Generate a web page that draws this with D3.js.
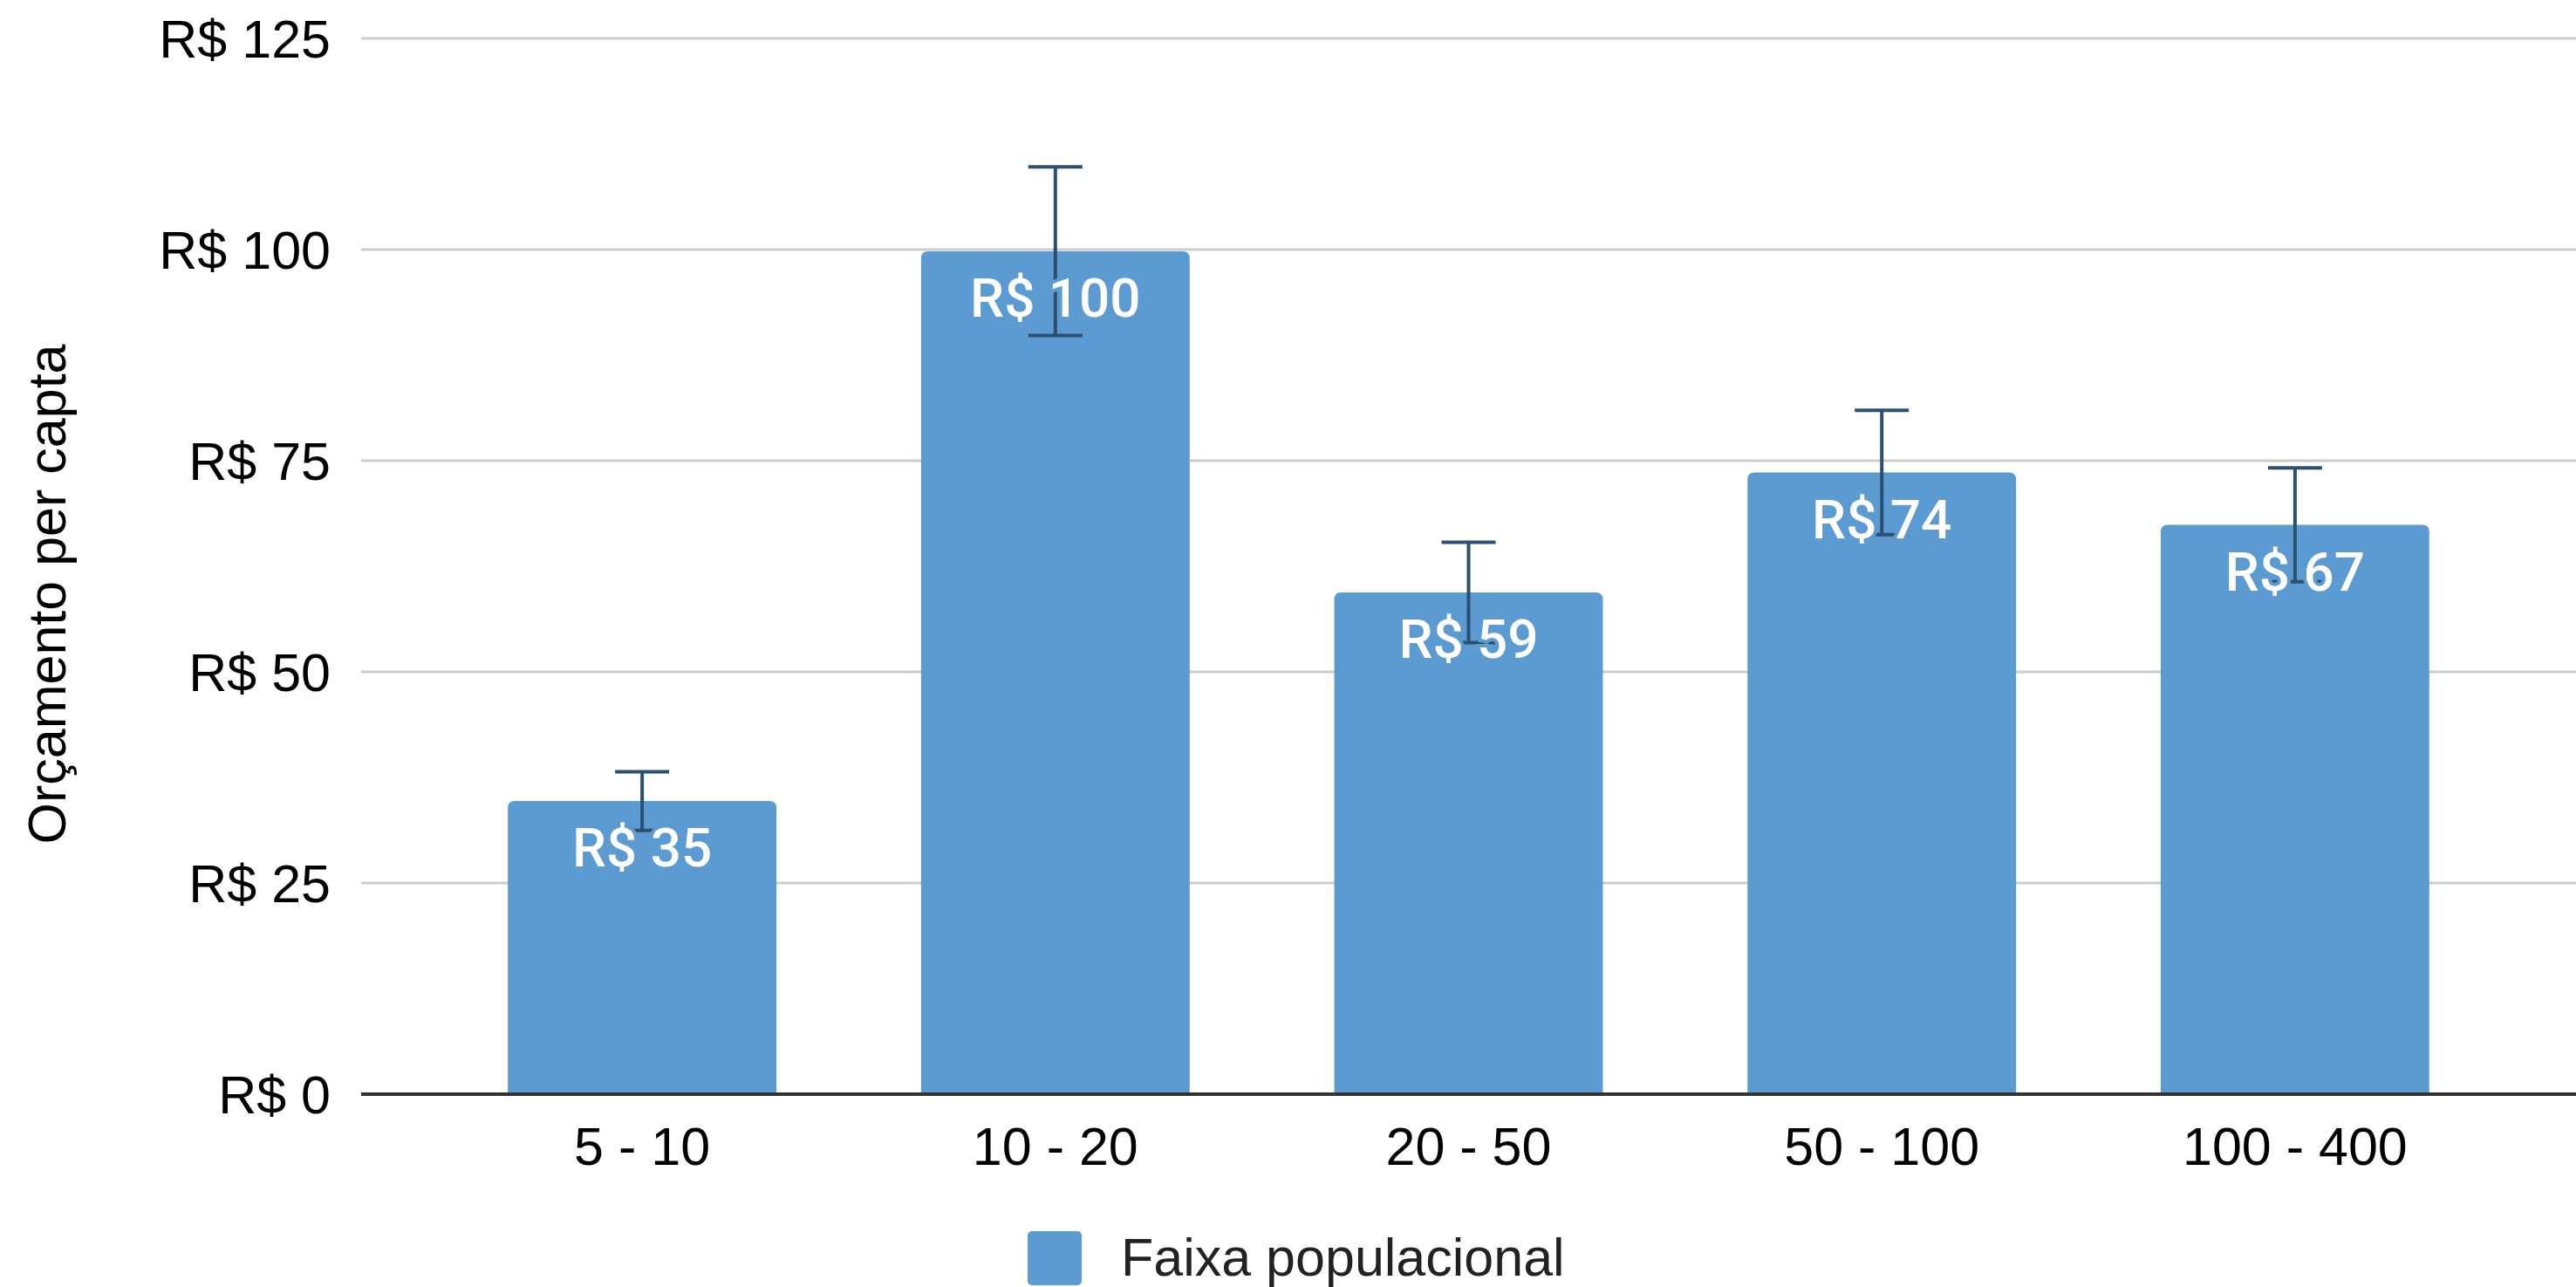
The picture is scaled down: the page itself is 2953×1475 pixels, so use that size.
<!DOCTYPE html>
<html>
<head>
<meta charset="utf-8">
<script src="https://cdn.jsdelivr.net/npm/d3@7"></script>
<style>
  body { margin: 0; background: #fff; }
</style>
</head>
<body>
<div id="chart"></div>
<script>
const width = 2953;
const height = 1475;

// data
const categories = ["5 - 10", "10 - 20", "20 - 50", "50 - 100", "100 - 400"];
const values = [34.7, 99.8, 59.4, 73.6, 67.4];
const errorPercent = 10; // percent error bars
const yTicks = [0, 25, 50, 75, 100, 125];
const yTitle = "Orçamento per capta";
const seriesName = "Faixa populacional";

const barColor = "#5b9bd1";
const errColor = "#2b5072";

const x = d3.scaleBand()
    .domain(categories)
    .range([414, 2953])
    .paddingInner(0.35)
    .paddingOuter(0.355);

const y = d3.scaleLinear()
    .domain([0, 125])
    .range([1254, 44]);

const svg = d3.select("#chart")
    .append("svg")
    .attr("width", width)
    .attr("height", height)
    .attr("viewBox", [0, 0, width, height])
    .style("font-family", "Arial, 'Liberation Sans', sans-serif");

// gridlines
svg.append("g")
    .selectAll("line")
    .data(yTicks.filter(d => d > 0))
    .join("line")
    .attr("x1", 414)
    .attr("x2", width)
    .attr("y1", d => y(d))
    .attr("y2", d => y(d))
    .attr("stroke", "#cccccc")
    .attr("stroke-width", 3);

// y tick labels
svg.append("g")
    .selectAll("text")
    .data(yTicks)
    .join("text")
    .attr("x", 379)
    .attr("y", d => y(d))
    .attr("dy", "0.36em")
    .attr("text-anchor", "end")
    .attr("font-size", 61)
    .attr("fill", "#000")
    .text(d => "R$ " + d);

// y title
svg.append("text")
    .attr("transform", `translate(75,681) rotate(-90)`)
    .attr("text-anchor", "middle")
    .attr("font-size", 61)
    .attr("fill", "#000")
    .text(yTitle);

// bars with rounded top corners
const r = 8;
function barPath(d, i) {
    const x0 = x(categories[i]), x1 = x0 + x.bandwidth();
    const yt = y(d), yb = y(0);
    return `M${x0},${yb}V${yt + r}Q${x0},${yt} ${x0 + r},${yt}H${x1 - r}Q${x1},${yt} ${x1},${yt + r}V${yb}Z`;
}

svg.append("g")
    .selectAll("path")
    .data(values)
    .join("path")
    .attr("d", barPath)
    .attr("fill", barColor);

// baseline
svg.append("line")
    .attr("x1", 414)
    .attr("x2", width)
    .attr("y1", y(0))
    .attr("y2", y(0))
    .attr("stroke", "#333")
    .attr("stroke-width", 4);

// x labels
svg.append("g")
    .selectAll("text")
    .data(categories)
    .join("text")
    .attr("x", d => x(d) + x.bandwidth() / 2)
    .attr("y", 1335)
    .attr("text-anchor", "middle")
    .attr("font-size", 61)
    .attr("fill", "#000")
    .text(d => d);

// error bars
const err = svg.append("g")
    .attr("stroke", errColor)
    .attr("stroke-width", 4)
    .selectAll("g")
    .data(values)
    .join("g")
    .attr("transform", (d, i) => `translate(${x(categories[i]) + x.bandwidth() / 2},0)`);

err.append("line")
    .attr("y1", d => y(d * (1 + errorPercent / 100)))
    .attr("y2", d => y(d * (1 - errorPercent / 100)));
err.append("line")
    .attr("x1", -31).attr("x2", 31)
    .attr("y1", d => y(d * (1 + errorPercent / 100)))
    .attr("y2", d => y(d * (1 + errorPercent / 100)));
err.append("line")
    .attr("x1", -31).attr("x2", 31)
    .attr("y1", d => y(d * (1 - errorPercent / 100)))
    .attr("y2", d => y(d * (1 - errorPercent / 100)));

// data labels, with a halo in bar colour
svg.append("g")
    .selectAll("text")
    .data(values)
    .join("text")
    .attr("x", (d, i) => x(categories[i]) + x.bandwidth() / 2)
    .attr("y", d => y(d) + 75)
    .attr("text-anchor", "middle")
    .attr("font-family", "Roboto, sans-serif")
    .attr("font-weight", 500)
    .attr("font-size", 62)
    .attr("fill", "#fff")
    .attr("stroke", barColor)
    .attr("stroke-width", 8)
    .attr("paint-order", "stroke")
    .text(d => "R$ " + Math.round(d));

// legend
const legend = svg.append("g").attr("transform", "translate(1178,1411)");
legend.append("rect")
    .attr("width", 62)
    .attr("height", 62)
    .attr("rx", 5)
    .attr("fill", barColor);
legend.append("text")
    .attr("x", 107)
    .attr("y", 51)
    .attr("font-size", 61)
    .attr("fill", "#222")
    .text(seriesName);
</script>
</body>
</html>
